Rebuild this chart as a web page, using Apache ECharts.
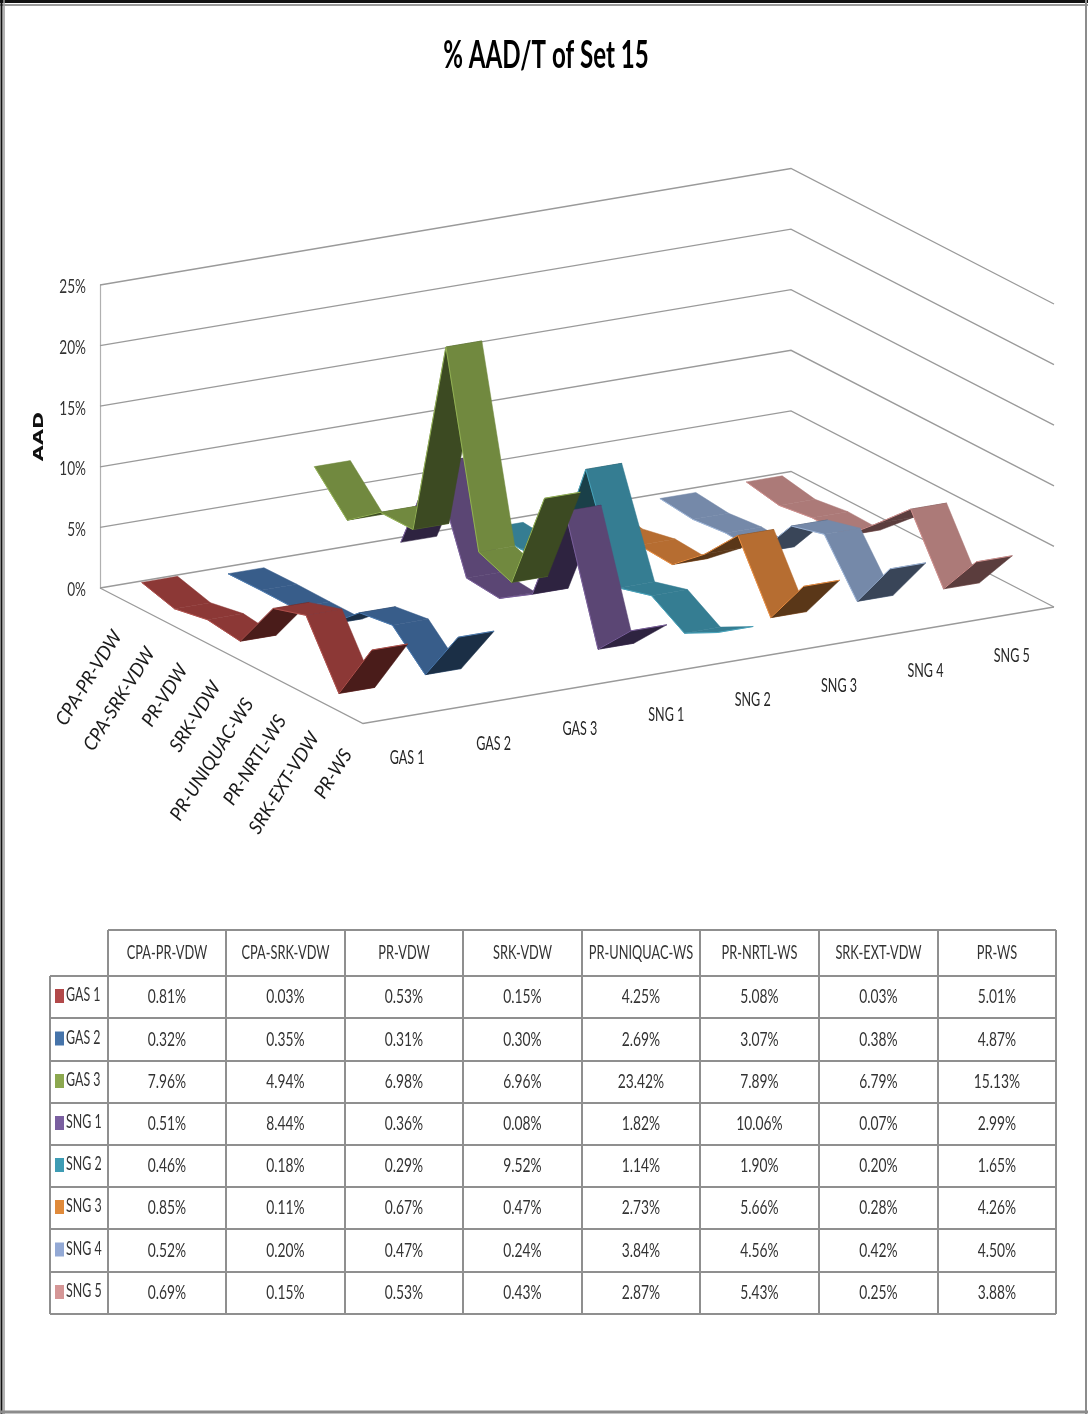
<!DOCTYPE html>
<html>
<head>
<meta charset="utf-8">
<style>html,body{margin:0;padding:0;background:#fff}#chart{width:1088px;height:1414px}</style>
<script src="https://cdn.jsdelivr.net/npm/echarts@6/dist/echarts.min.js"></script>
</head>
<body>
<div id="chart"></div>
<script>
// Equations of state along the depth axis
var methods = ['CPA-PR-VDW', 'CPA-SRK-VDW', 'PR-VDW', 'SRK-VDW', 'PR-UNIQUAC-WS', 'PR-NRTL-WS', 'SRK-EXT-VDW', 'PR-WS'];
// Gas mixtures along the horizontal axis
var mixtures = ['GAS 1', 'GAS 2', 'GAS 3', 'SNG 1', 'SNG 2', 'SNG 3', 'SNG 4', 'SNG 5'];
var yTicks = [0, 5, 10, 15, 20, 25];

// %AAD per mixture, one value per method
var gas1 = [0.81, 0.03, 0.53, 0.15, 4.25, 5.08, 0.03, 5.01];
var gas2 = [0.32, 0.35, 0.31, 0.30, 2.69, 3.07, 0.38, 4.87];
var gas3 = [7.96, 4.94, 6.98, 6.96, 23.42, 7.89, 6.79, 15.13];
var sng1 = [0.51, 8.44, 0.36, 0.08, 1.82, 10.06, 0.07, 2.99];
var sng2 = [0.46, 0.18, 0.29, 9.52, 1.14, 1.90, 0.20, 1.65];
var sng3 = [0.85, 0.11, 0.67, 0.47, 2.73, 5.66, 0.28, 4.26];
var sng4 = [0.52, 0.20, 0.47, 0.24, 3.84, 4.56, 0.42, 4.50];
var sng5 = [0.69, 0.15, 0.53, 0.43, 2.87, 5.43, 0.25, 3.88];
var rows = [gas1, gas2, gas3, sng1, sng2, sng3, sng4, sng5];

// Face colours of each ribbon
var topColors = ['#8C3836', '#385D8A', '#71893F', '#5B4674', '#357D92', '#B66D31', '#7589A9', '#AC7A78'];
var underColors = ['#4A1C1A', '#1B2F46', '#3C4A22', '#2E2340', '#1A4049', '#5A3718', '#394558', '#5B3D3D'];
var edgeColors = ['#B0504C', '#4A7AB0', '#93B254', '#7A5F9C', '#48A4BC', '#EB8E40', '#9DB5D8', '#CF8E8C'];
var swatchColors = ['#B2494A', '#4674AA', '#8CA84F', '#7A5FA0', '#3E9CB4', '#E08A3A', '#93A9D5', '#D59696'];

// Oblique floor projection: pixel vectors of the depth and mixture edges of the floor
var DEPTH = [263, 135.5];
var ACROSS = [691, -116.5];
var RIBBON_HALF = 0.026;

function project(params, api, u, v, val) {
  var cs = params.coordSys;
  var yPix = api.coord([0, val])[1];
  return [cs.x + DEPTH[0] * u + ACROSS[0] * v, yPix + DEPTH[1] * u + ACROSS[1] * v];
}
function slot(i) { return (i + 0.5) / 8; }

function lato(text, size, x, y, opts) {
  opts = opts || {};
  return {
    type: 'text', x: x, y: y,
    scaleX: opts.scaleX === undefined ? 0.76 : opts.scaleX,
    rotation: opts.rotation || 0,
    silent: true,
    style: {
      text: text, x: 0, y: 0,
      fontFamily: opts.family || 'Lato', fontSize: size,
      fontStyle: opts.italic ? 'italic' : 'normal',
      fontWeight: opts.weight || 'normal',
      fill: opts.fill || '#1a1a1a',
      align: opts.align || 'center', verticalAlign: 'middle'
    }
  };
}

var axisLine = { stroke: '#9a9a9a', lineWidth: 1.3, fill: 'none' };

// Back walls and floor outline
function renderWalls(params, api) {
  var val = api.value(1);
  var a = project(params, api, 0, 0, val);
  var b = project(params, api, 0, 1, val);
  var c = project(params, api, 1, 1, val);
  var children = [{ type: 'polyline', silent: true, shape: { points: [a, b, c] }, style: axisLine }];
  if (val === 0) {
    children.push({ type: 'polyline', silent: true, style: axisLine, shape: { points: [a, project(params, api, 1, 0, 0), c] } });
  }
  return { type: 'group', children: children };
}

function ribbonRenderer(s) {
  var values = rows[s];
  return function (params, api) {
    var i = api.value(0);
    var v = slot(s);
    var u0 = slot(i);
    var children = [];
    var a = project(params, api, u0, v - RIBBON_HALF, values[i]);
    var b = project(params, api, u0, v + RIBBON_HALF, values[i]);
    if (i < values.length - 1) {
      var u1 = slot(i + 1);
      var c = project(params, api, u1, v + RIBBON_HALF, values[i + 1]);
      var d = project(params, api, u1, v - RIBBON_HALF, values[i + 1]);
      // The winding of the projected quad tells the upper face from the underside
      var area = (c[0] - a[0]) * (d[1] - b[1]) - (c[1] - a[1]) * (d[0] - b[0]);
      var face = area < 0 ? underColors[s] : topColors[s];
      children.push({
        type: 'polygon', silent: true,
        shape: { points: [a, b, c, d] },
        style: { fill: face, stroke: face, lineWidth: 0.5 }
      });
      children.push({
        type: 'line', silent: true,
        shape: { x1: a[0], y1: a[1], x2: d[0], y2: d[1] },
        style: { stroke: edgeColors[s], lineWidth: 1 }
      });
    } else {
      children.push({
        type: 'line', silent: true,
        shape: { x1: a[0], y1: a[1], x2: b[0], y2: b[1] },
        style: { stroke: edgeColors[s], lineWidth: 1 }
      });
    }
    return { type: 'group', children: children };
  };
}

function renderMethodLabel(params, api) {
  var i = api.value(0);
  var p = project(params, api, slot(i), 0, 0);
  return lato(methods[i], 19, p[0] + 1, p[1] + 36, { align: 'right', italic: true, rotation: 58 * Math.PI / 180, scaleX: 0.97 });
}
function renderMixtureLabel(params, api) {
  var i = api.value(0);
  var p = project(params, api, 1, slot(i), 0);
  return lato(mixtures[i], 19, p[0] + 1, p[1] + 42, { fill: '#262626', scaleX: 0.66 });
}
function renderTickLabel(params, api) {
  var val = api.value(1);
  var y = api.coord([0, val])[1];
  return lato(val + '%', 20, 86, y + 2, { align: 'right', fill: '#333', scaleX: 0.68 });
}
function renderValueAxisName(params, api) {
  var y = api.coord([0, 12.5])[1];
  return lato('AAD', 14, 39, y, { family: '"DejaVu Sans"', weight: 'bold', fill: '#111', rotation: Math.PI / 2, scaleX: 1.48 });
}

// Data table under the chart
var colX = [50, 108, 226, 345, 463, 582, 700, 819, 938, 1056];
var rowY = [930, 976, 1018, 1061, 1103, 1145, 1187, 1229, 1272, 1314];
var tableEls = [];
var gridStroke = { stroke: '#8f8f8f', lineWidth: 2 };
colX.forEach(function (x, i) {
  tableEls.push({ type: 'line', silent: true, shape: { x1: x, y1: i === 0 ? rowY[1] : rowY[0], x2: x, y2: rowY[9] }, style: gridStroke });
});
rowY.forEach(function (y, i) {
  tableEls.push({ type: 'line', silent: true, shape: { x1: i === 0 ? colX[1] : colX[0], y1: y, x2: colX[9], y2: y }, style: gridStroke });
});
methods.forEach(function (m, c) {
  tableEls.push(lato(m, 20, (colX[c + 1] + colX[c + 2]) / 2, (rowY[0] + rowY[1]) / 2, { fill: '#333', scaleX: 0.64 }));
});
rows.forEach(function (row, r) {
  var cy = (rowY[r + 1] + rowY[r + 2]) / 2;
  tableEls.push({ type: 'rect', silent: true, shape: { x: 55, y: cy - 8, width: 9, height: 14 }, style: { fill: swatchColors[r] } });
  tableEls.push(lato(mixtures[r], 20, 66, cy - 2, { align: 'left', fill: '#333', scaleX: 0.62 }));
  row.forEach(function (val, c) {
    tableEls.push(lato(val.toFixed(2) + '%', 20, (colX[c + 1] + colX[c + 2]) / 2, cy, { fill: '#333', scaleX: 0.69 }));
  });
});

// Outer frame
var frameEls = [
  { type: 'line', silent: true, shape: { x1: 0, y1: 1.5, x2: 1088, y2: 1.5 }, style: { stroke: '#111', lineWidth: 3 } },
  { type: 'line', silent: true, shape: { x1: 0, y1: 5, x2: 1088, y2: 5 }, style: { stroke: '#9a9a9a', lineWidth: 2 } },
  { type: 'line', silent: true, shape: { x1: 1.5, y1: 0, x2: 1.5, y2: 1414 }, style: { stroke: '#111', lineWidth: 2 } },
  { type: 'line', silent: true, shape: { x1: 4, y1: 0, x2: 4, y2: 1414 }, style: { stroke: '#9a9a9a', lineWidth: 1.5 } },
  { type: 'line', silent: true, shape: { x1: 1086, y1: 0, x2: 1086, y2: 1414 }, style: { stroke: '#8c8c8c', lineWidth: 2 } },
  { type: 'line', silent: true, shape: { x1: 0, y1: 1412, x2: 1088, y2: 1412 }, style: { stroke: '#8c8c8c', lineWidth: 3 } }
];

// Chart heading
var titleEl = lato('% AAD/T of Set 15', 38, 546, 56, { weight: 'bold', fill: '#000', scaleX: 0.635 });

var series = [
  {
    type: 'custom', name: 'walls', z: 1, silent: true, renderItem: renderWalls,
    data: yTicks.map(function (t) { return [0, t]; })
  },
  {
    type: 'custom', name: 'value ticks', z: 2, silent: true, renderItem: renderTickLabel,
    data: yTicks.map(function (t) { return [0, t]; })
  },
  {
    type: 'custom', name: 'value axis name', z: 2, silent: true, renderItem: renderValueAxisName,
    data: [[0, 0]]
  }
];
for (var s = rows.length - 1; s >= 0; s--) {
  series.push({
    type: 'custom', name: mixtures[s], z: 10 + (rows.length - s), silent: true,
    renderItem: ribbonRenderer(s),
    encode: { x: 0, y: 1 },
    data: rows[s].map(function (v, i) { return [i, v]; })
  });
}
series.push({
  type: 'custom', name: 'method labels', z: 30, silent: true, renderItem: renderMethodLabel,
  data: methods.map(function (m, i) { return [i, 0]; })
});
series.push({
  type: 'custom', name: 'mixture labels', z: 30, silent: true, renderItem: renderMixtureLabel,
  data: mixtures.map(function (m, i) { return [i, 0]; })
});

var chart = echarts.init(document.getElementById('chart'), null, { renderer: 'canvas' });
chart.setOption({
  animation: false,
  backgroundColor: '#fff',
  grid: { left: 100, top: 285, width: 956, height: 303 },
  xAxis: { type: 'category', data: methods, show: false },
  yAxis: {
    type: 'value', min: 0, max: 25, interval: 5,
    axisLine: { show: true, lineStyle: { color: '#b0b0b0', width: 1.2 } },
    axisTick: { show: false },
    splitLine: { show: false },
    axisLabel: { show: false }
  },
  graphic: { elements: frameEls.concat(tableEls, [titleEl]) },
  series: series
});
</script>
</body>
</html>
